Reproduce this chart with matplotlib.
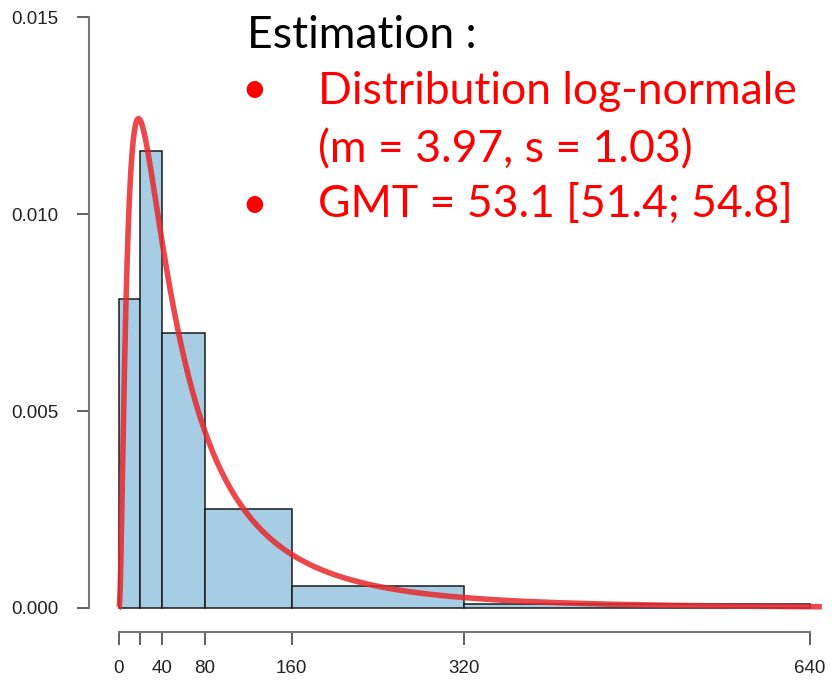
import numpy as np
import matplotlib.pyplot as plt

# histogram (density)
bin_edges = [0, 20, 40, 80, 160, 320, 640]
densities = [0.00784, 0.0116, 0.00698, 0.00252, 0.00056, 0.0001]

# fitted log-normal parameters (meanlog, sdlog)
m = 3.97
s = 1.03
x_max = 651

x_ticks = [0, 20, 40, 80, 160, 320, 640]
x_labels = ["0", "", "40", "80", "160", "320", "640"]
y_ticks = [0.0, 0.005, 0.010, 0.015]
y_labels = ["0.000", "0.005", "0.010", "0.015"]

W, H = 832, 684
fig = plt.figure(figsize=(W / 100, H / 100), dpi=100)

def px(x, y):
    return x / W, 1 - y / H

# axes box in pixels: left 89, right 832, top 5, bottom 632
ax = fig.add_axes([89 / W, 1 - 632 / H, (832 - 89) / W, (632 - 5) / H])
ax.set_xlim(-27.5, 660.4)
ax.set_ylim(-0.00061, 0.01531)

lefts = bin_edges[:-1]
widths = np.diff(bin_edges)
ax.bar(lefts, densities, width=widths, align="edge", color="#a6cde3",
       edgecolor="#1a1a1a", linewidth=1.1, zorder=2)

xs = np.linspace(0.01, x_max, 2000)
pdf = np.exp(-(np.log(xs) - m) ** 2 / (2 * s ** 2)) / (xs * s * np.sqrt(2 * np.pi))
ax.plot(xs, pdf, color="#e8282d", alpha=0.85, linewidth=4, zorder=3,
        solid_capstyle="butt")

for side in ["top", "right"]:
    ax.spines[side].set_visible(False)
ax.spines["left"].set_bounds(0, 0.015)
ax.spines["bottom"].set_bounds(0, 640)
for side in ["left", "bottom"]:
    ax.spines[side].set_color("#777777")
    ax.spines[side].set_linewidth(1.5)

ax.set_xticks(x_ticks)
ax.set_xticklabels(x_labels)
ax.set_yticks(y_ticks)
ax.set_yticklabels(y_labels)
ax.tick_params(direction="out", length=9, width=1.3, color="#555555",
               labelsize=13.5, labelcolor="#222222", pad=13)
ax.tick_params(axis="x", pad=11)
for lab in ax.get_xticklabels() + ax.get_yticklabels():
    lab.set_family("Liberation Sans")

font = ["Lato", "DejaVu Sans"]
fs = 32
fig.text(*px(247, 48), "Estimation :", fontsize=fs, family=font,
         color="black", va="baseline", ha="left")
red = "#ff0000"
for bx, by in [(254, 90), (254, 205)]:
    fig.text(*px(bx, by), "\u2022", fontsize=fs, family=font, color=red,
             va="center", ha="center")
fig.text(*px(318, 104), "Distribution log-normale", fontsize=fs, family=font,
         color=red, va="baseline", ha="left")
fig.text(*px(318, 162), "(m = 3.97, s = 1.03)", fontsize=fs, family=font,
         color=red, va="baseline", ha="left")
fig.text(*px(318, 217), "GMT = 53.1 [51.4; 54.8]", fontsize=fs, family=font,
         color=red, va="baseline", ha="left")

fig.savefig("out.png", dpi=100)
